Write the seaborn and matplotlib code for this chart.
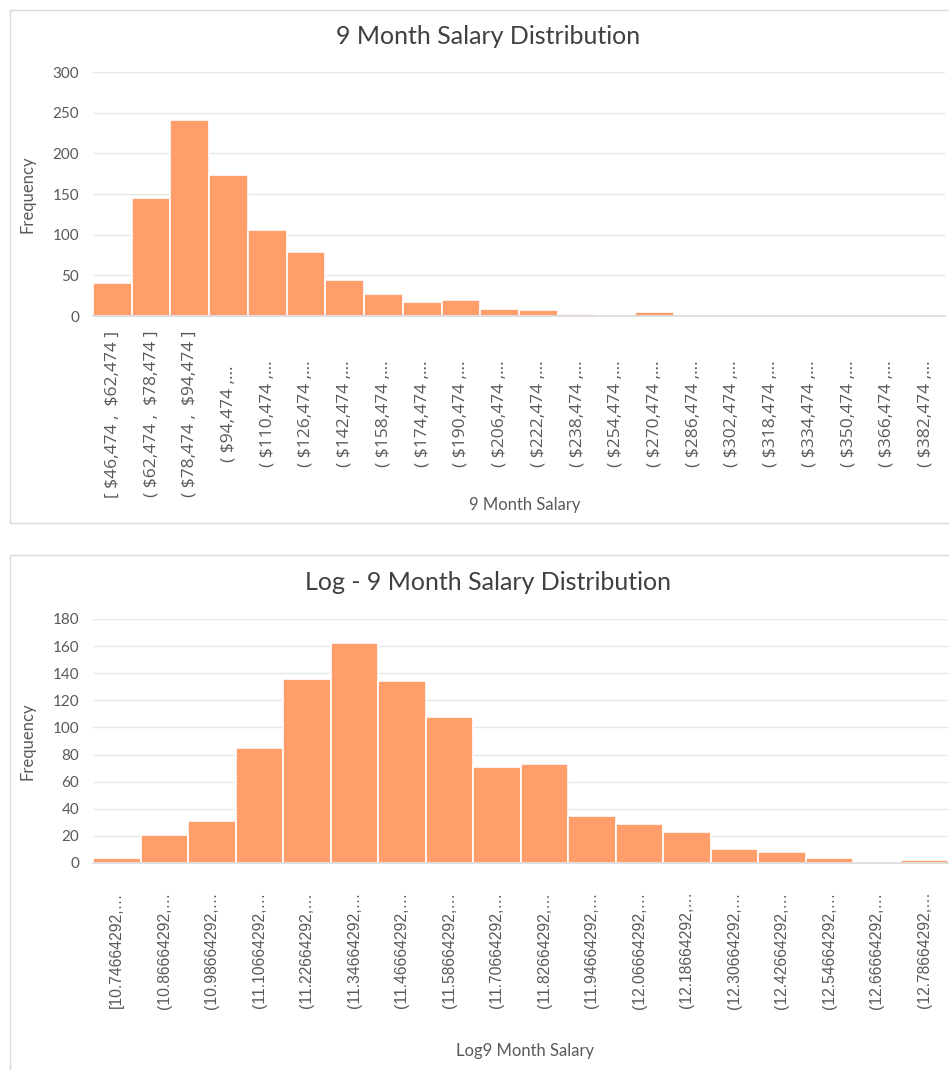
import matplotlib
matplotlib.use("Agg")
import matplotlib.pyplot as plt
import seaborn as sns
import pandas as pd
from matplotlib.patches import Rectangle

# --- data ---
salary_bins = ["[ $46,474 ,  $62,474 ]", "( $62,474 ,  $78,474 ]", "( $78,474 ,  $94,474 ]",
               "( $94,474 ,…", "( $110,474 ,…", "( $126,474 ,…", "( $142,474 ,…",
               "( $158,474 ,…", "( $174,474 ,…", "( $190,474 ,…", "( $206,474 ,…",
               "( $222,474 ,…", "( $238,474 ,…", "( $254,474 ,…", "( $270,474 ,…",
               "( $286,474 ,…", "( $302,474 ,…", "( $318,474 ,…", "( $334,474 ,…",
               "( $350,474 ,…", "( $366,474 ,…", "( $382,474 ,…"]
salary_counts = [40, 145, 241, 173, 106, 79, 44, 27, 17, 20, 9, 7, 3, 0, 5,
                 0, 0, 0, 0, 0, 0, 0]

log_bins = ["[10.74664292,…", "(10.86664292,…", "(10.98664292,…", "(11.10664292,…",
            "(11.22664292,…", "(11.34664292,…", "(11.46664292,…", "(11.58664292,…",
            "(11.70664292,…", "(11.82664292,…", "(11.94664292,…", "(12.06664292,…",
            "(12.18664292,…", "(12.30664292,…", "(12.42664292,…", "(12.54664292,…",
            "(12.66664292,…", "(12.78664292,…"]
log_counts = [4, 21, 31, 85, 136, 162, 134, 108, 71, 73, 35, 29, 23, 10, 8, 4, 0, 2]

BAR = "#FF9E6B"
GRAY = "#595959"
GRID = "#E6E6E6"

sns.set_theme(style="white")
plt.rcParams["font.family"] = ["Lato", "DejaVu Sans"]

W, H = 949, 1070
fig = plt.figure(figsize=(W / 100, H / 100), dpi=100)


def px_axes(left, top, right, bottom):
    return fig.add_axes([left / W, 1 - bottom / H, (right - left) / W, (bottom - top) / H])


def panel(left, top, right, bottom):
    fig.patches.append(Rectangle((left / W, 1 - bottom / H), (right - left) / W, (bottom - top) / H,
                                 transform=fig.transFigure, fill=False,
                                 edgecolor="#D9D9D9", linewidth=1.0))


def draw_hist(ax, cats, counts, ymax, step, tick_font, tick_size, label_mid):
    df = pd.DataFrame({"bin": cats, "count": counts})
    sns.barplot(data=df, x="bin", y="count", ax=ax, color=BAR, saturation=1,
                width=1.0, edgecolor="white", linewidth=1.2)
    ax.set_xlim(-0.5, len(cats) - 0.5)
    ax.set_ylim(0, ymax)
    ax.set_yticks(range(0, ymax + 1, step))
    ax.yaxis.grid(True, color=GRID, linewidth=1)
    ax.set_axisbelow(True)
    for s in ["top", "right", "left"]:
        ax.spines[s].set_visible(False)
    ax.spines["bottom"].set_color("#D9D9D9")
    ax.spines["bottom"].set_linewidth(1.2)
    ax.tick_params(axis="y", length=0, labelsize=11, labelcolor=GRAY, pad=10)
    ax.set_xticks(range(len(cats)))
    ax.set_xticklabels([])
    # rotated category labels, centred at a fixed distance below the axis
    for i, c in enumerate(cats):
        ax.annotate(c.replace("$", r"\$"), xy=(i, 0), xycoords="data",
                    xytext=(0, -label_mid), textcoords="offset pixels",
                    rotation=90, ha="center", va="center", color=GRAY,
                    fontsize=tick_size, family=tick_font, annotation_clip=False)
    ax.set_ylabel("Frequency", color=GRAY, fontsize=12, labelpad=12)
    ax.set_xlabel("")


# top chart
panel(10, 10, 960, 523)
ax1 = px_axes(93, 72, 945, 316)
draw_hist(ax1, salary_bins, salary_counts, 300, 50, ["Open Sans", "DejaVu Sans"], 12.5, 98)
fig.text(488 / W, 1 - 37 / H, "9 Month Salary Distribution", ha="center", va="center",
         fontsize=18, color="#404040")
fig.text(525 / W, 1 - 505 / H, "9 Month Salary", ha="center", va="center",
         fontsize=12, color=GRAY)

# bottom chart
panel(10, 555, 960, 1080)
ax2 = px_axes(93, 619, 948, 863)
draw_hist(ax2, log_bins, log_counts, 180, 20, ["Liberation Sans", "DejaVu Sans"], 11.3, 87)
fig.text(488 / W, 1 - 583 / H, "Log - 9 Month Salary Distribution", ha="center", va="center",
         fontsize=18, color="#404040")
fig.text(525 / W, 1 - 1051 / H, "Log9 Month Salary", ha="center", va="center",
         fontsize=12, color=GRAY)

fig.savefig("out.png", dpi=100, facecolor="white")
